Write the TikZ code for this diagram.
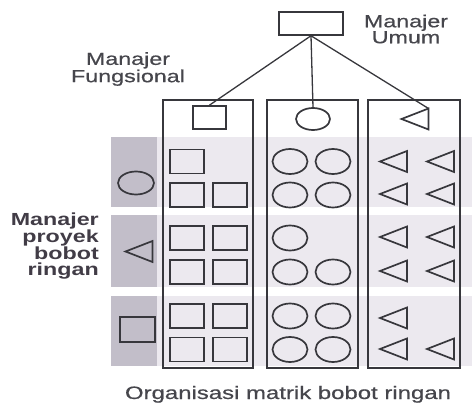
\documentclass[tikz,border=0pt]{standalone}
\usepackage{fontspec}
\setmainfont{Liberation Sans}[FakeStretch=1.33]
\newfontfamily\medfont{Liberation Sans}[FakeStretch=1.33, FakeBold=0.6]
\usetikzlibrary{shapes.geometric}
\definecolor{ink}{RGB}{55,55,60}
\definecolor{txt}{RGB}{70,70,76}
\definecolor{btxt}{RGB}{65,60,70}
\definecolor{shadeDark}{RGB}{194,190,201}
\definecolor{shadeLight}{RGB}{236,233,239}
\tikzset{
  conn/.style={draw=ink, line width=1.3pt},
  sq/.style={rectangle, draw=ink, line width=1.7pt, minimum width=34pt, minimum height=24pt, inner sep=0pt},
  ov/.style={ellipse, draw=ink, line width=1.7pt, minimum width=35pt, minimum height=25pt, inner sep=0pt},
  colbox/.style={draw=ink, line width=2pt},
  lbl/.style={font=\fontsize{17.5}{16}\medfont, text=txt, align=center, inner sep=0pt},
  blbl/.style={font=\fontsize{17.5}{16.3}\selectfont\bfseries, text=btxt, align=right, inner sep=0pt},
  tri/.pic={\draw[ink, line width=1.7pt, line join=miter] (-13.5,0) -- (13.5,-10.5) -- (13.5,10.5) -- cycle;},
}
\begin{document}
\begin{tikzpicture}[x=1pt,y=-1pt]
\useasboundingbox (0,0) rectangle (472,404);
% shaded bands
\foreach \ya/\yb in {137/207, 215/287, 296/366}{
  \fill[shadeLight] (157,\ya) rectangle (472,\yb);
  \fill[shadeDark] (111,\ya) rectangle (157,\yb);
}
% columns
\draw[colbox] (163,100) rectangle (253,368);
\draw[colbox] (267,100) rectangle (358,368);
\draw[colbox] (368,100) rectangle (460,368);
% general manager and functional managers
\node[rectangle, draw=ink, line width=1.5pt, minimum width=64pt, minimum height=23pt, inner sep=0pt] (umum) at (311,23.5) {};
\node[sq, minimum width=33pt, minimum height=23pt] (fsq) at (209.5,117.5) {};
\node[ov, minimum width=34pt, minimum height=22pt] (fci) at (313,119) {};
\pic at (415,119) {tri};
\coordinate (ftri) at (428.5,108.5);
\draw[conn] (umum.south) -- (fsq.north);
\draw[conn] (umum.south) -- (fci.north);
\draw[conn] (umum.south) -- (ftri);
% project managers
\node[ov, minimum width=36pt, minimum height=23pt] (pci) at (136,183) {};
\pic at (139,251.5) {tri};
\node[sq, minimum width=35pt, minimum height=25pt] (psq) at (137.5,329.5) {};
% column 1 squares
\node[sq] (s11) at (187,161.5) {};
\node[sq] (s12) at (187,195) {};
\node[sq] (s13) at (230,195) {};
\node[sq] (s21) at (187,238) {};
\node[sq] (s22) at (230,238) {};
\node[sq] (s23) at (187,272) {};
\node[sq] (s24) at (230,272) {};
\node[sq] (s31) at (187,316) {};
\node[sq] (s32) at (230,316) {};
\node[sq] (s33) at (187,349.5) {};
\node[sq] (s34) at (230,349.5) {};
% column 2 circles
\node[ov] (c11) at (290,161.5) {};
\node[ov] (c12) at (333,161.5) {};
\node[ov] (c13) at (290,195) {};
\node[ov] (c14) at (333,195) {};
\node[ov] (c21) at (290,238) {};
\node[ov] (c22) at (290,272) {};
\node[ov] (c23) at (333,272) {};
\node[ov] (c31) at (290,316) {};
\node[ov] (c32) at (333,316) {};
\node[ov] (c33) at (290,349.5) {};
\node[ov] (c34) at (333,349.5) {};
% column 3 triangles
\foreach \x/\y in {393.5/161.5, 440.5/161.5, 393.5/194, 440.5/194,
                   393.5/237, 440.5/237, 393.5/271, 440.5/271,
                   393.5/318, 393.5/349, 440.5/349}{
  \pic at (\x,\y) {tri};
}
% labels
\node[lbl] (lumum) at (406,29) {Manajer\\Umum};
\node[lbl] (lfung) at (128,69) {Manajer\\Fungsional};
\node[blbl, anchor=east] (lproy) at (99,246) {Manajer\\proyek\\bobot\\ringan};
\node[lbl, font=\fontsize{18}{18}\medfont, anchor=base] (cap) at (288,399) {Organisasi matrik bobot ringan};
\end{tikzpicture}
\end{document}
